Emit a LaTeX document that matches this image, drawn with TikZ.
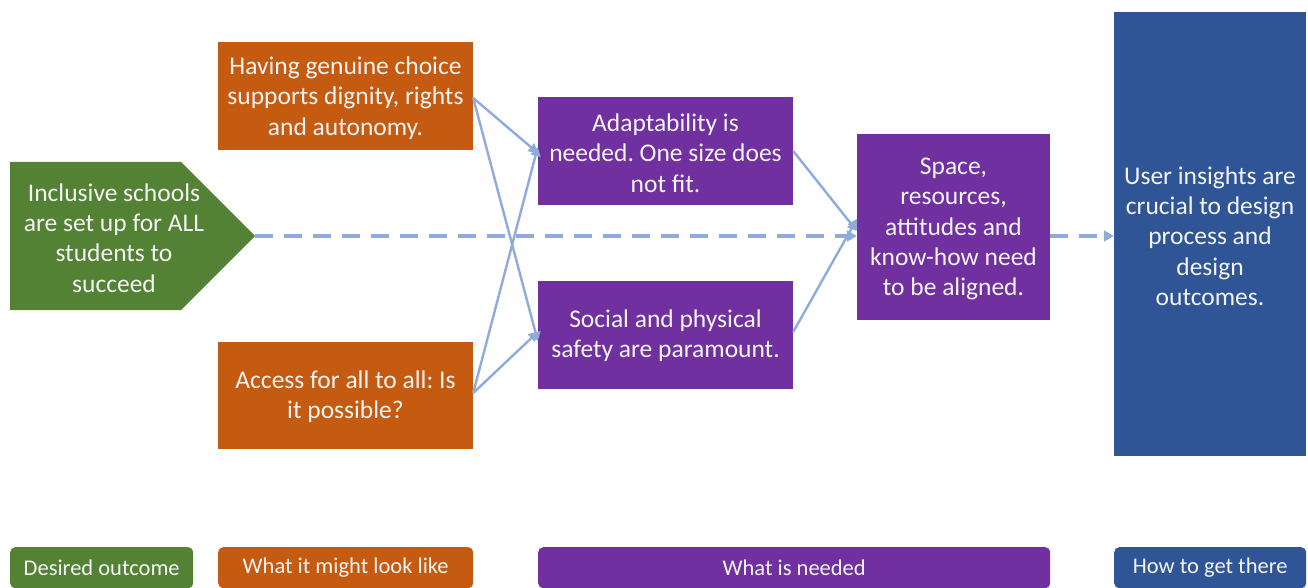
\documentclass[tikz,border=0pt]{standalone}
\usepackage{fontspec}
\setmainfont{Carlito}
\frenchspacing
\usetikzlibrary{arrows.meta,positioning}
\definecolor{cgreen}{HTML}{548235}
\definecolor{corange}{HTML}{C55A11}
\definecolor{cpurple}{HTML}{7030A0}
\definecolor{cblue}{HTML}{2F5597}
\definecolor{cline}{HTML}{8FAADC}
\definecolor{ctext}{HTML}{F4F4F4}
\tikzset{
  box/.style={fill=#1, draw=none, inner sep=0pt, text=ctext, align=center,
    font=\fontsize{25.5}{30.3}\selectfont},
  legend/.style={fill=#1, draw=none, rounded corners=5pt, inner sep=0pt, text=ctext,
    font=\fontsize{22.5}{26}\selectfont, minimum height=41pt, anchor=north west},
  conn/.style={cline, line width=2.4pt, -{Triangle[length=9pt,width=10pt]}},
  dconn/.style={cline, line width=3.2pt, dash pattern=on 18pt off 11pt, -{Triangle[length=10pt,width=11pt]}},
}
\begin{document}
\begin{tikzpicture}[x=1pt,y=-1pt]
\useasboundingbox (0,0) rectangle (1308,588);
% green pentagon
\fill[cgreen] (10,162) -- (181,162) -- (255,236) -- (181,310) -- (10,310) -- cycle;
\node[box=none, fill=none] (goal) at (114,238) {Inclusive schools\\are set up for ALL\\students to\\succeed};
\coordinate (goaltip) at (255,236);
% orange
\node[box=corange, minimum width=255pt, minimum height=108pt] (choice) at (345.5,96) {};
\node[box=none, fill=none] (choicetext) at (345.5,98) {Having genuine choice\\supports dignity, rights\\and autonomy.};
\node[box=corange, minimum width=255pt, minimum height=107pt] (access) at (345.5,395.5) {};
\node[box=none, fill=none] (accesstext) at (345.5,397) {Access for all to all: Is\\it possible?};
% purple
\node[box=cpurple, minimum width=255pt, minimum height=108pt] (adapt) at (665.5,151) {};
\node[box=none, fill=none] (adapttext) at (665.5,153) {Adaptability is\\needed. One size does\\not fit.};
\node[box=cpurple, minimum width=255pt, minimum height=108pt] (safety) at (665.5,335) {};
\node[box=none, fill=none] (safetytext) at (665.5,336) {Social and physical\\safety are paramount.};
\node[box=cpurple, minimum width=193pt, minimum height=186pt] (space) at (953.5,227) {};
\node[box=none, fill=none] (spacetext) at (953.5,229) {Space,\\resources,\\attitudes and\\know-how need\\to be aligned.};
% blue
\node[box=cblue, minimum width=192pt, minimum height=444pt] (user) at (1210,234) {};
\node[box=none, fill=none] (usertext) at (1210,236) {User insights are\\crucial to design\\process and\\design\\outcomes.};
% connectors
\draw[conn] (choice.east |- 0,98) -- ([yshift=-2pt]adapt.west);
\draw[conn] (choice.east |- 0,98) -- ([yshift=-6pt]safety.west);
\draw[conn] (access.east |- 0,393) -- ([yshift=4pt]adapt.west);
\draw[conn] (access.east |- 0,393) -- ([yshift=3pt]safety.west);
\draw[conn] (adapt.east) -- ([yshift=-4pt]space.west);
\draw[conn] (safety.east |- 0,332) -- ([yshift=8pt]space.west);
\draw[dconn] (goaltip) -- (space.west |- goaltip);
\draw[dconn] (space.east |- goaltip) -- (user.west |- goaltip);
% legend
\node[legend=cgreen, minimum width=183pt] (l1) at (10,547) {Desired outcome};
\node[legend=corange, minimum width=255pt] (l2) at (218,547) {What it might look like};
\node[legend=cpurple, minimum width=512pt] (l3) at (538,547) {What is needed};
\node[legend=cblue, minimum width=192pt] (l4) at (1114,547) {How to get there};
\end{tikzpicture}
\end{document}
